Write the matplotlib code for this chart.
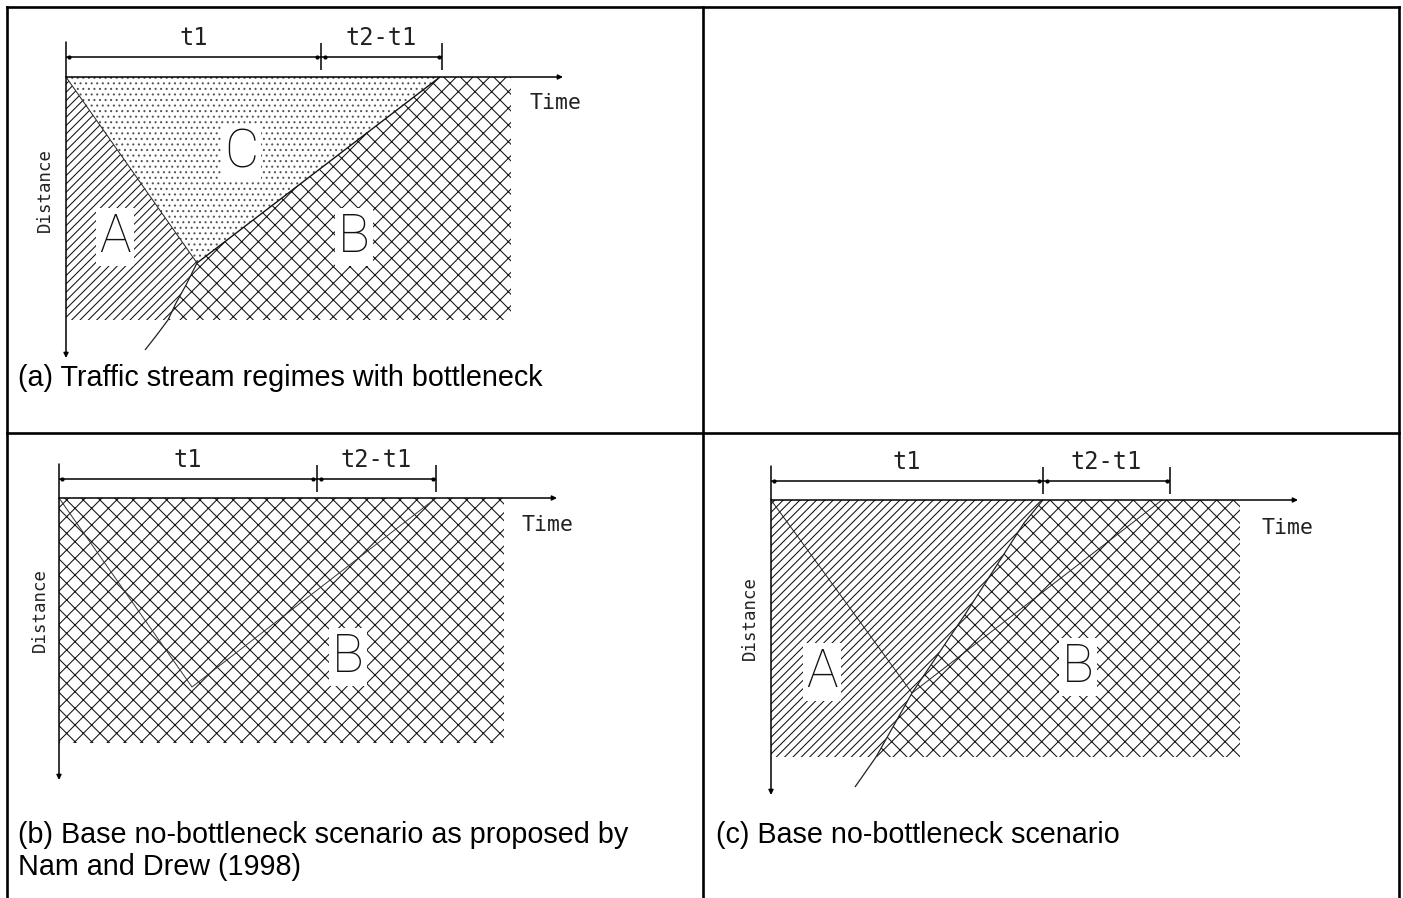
import matplotlib
matplotlib.use("Agg")
import matplotlib.pyplot as plt
from matplotlib.patches import Polygon
from matplotlib.font_manager import FontProperties

W, H, DPI = 1403, 898, 100

# ---- table frame (pixel coordinates, y grows downward)
frame_x = [7, 703, 1399]
frame_y = [7, 433]

captions = [
    ("(a) Traffic stream regimes with bottleneck", 18, 378),
    ("(b) Base no-bottleneck scenario as proposed by", 18, 835),
    ("Nam and Drew (1998)", 18, 867),
    ("(c) Base no-bottleneck scenario", 716, 835),
]

# ---- panel (a): bottleneck regimes A, B, C
a_origin = (66, 77)
a_t1, a_t2 = 321, 442
a_dim_y = 57
a_right, a_bottom = 511, 320
a_axis_end = (563, 358)
a_apex = (197, 263)
a_c_top = 440
a_shock = [(197, 263), (186, 285), (176, 303), (168, 320), (156, 336), (145, 350)]
a_labels = [("C", 241, 153), ("A", 115, 237), ("B", 354, 237)]
a_time = (530, 103)
a_dist = (45, 190)

# ---- panel (b): no-bottleneck, Nam and Drew
b_origin = (59, 498)
b_t1, b_t2 = 317, 436
b_dim_y = 479
b_right, b_bottom = 504, 743
b_axis_end = (557, 780)
b_apex = (192, 687)
b_labels = [("B", 348, 657)]
b_time = (522, 525)
b_dist = (40, 610)

# ---- panel (c): base no-bottleneck
c_origin = (771, 500)
c_t1, c_t2 = 1043, 1170
c_dim_y = 481
c_right, c_bottom = 1240, 757
c_axis_end = (1298, 795)
c_apex = (912, 693)
c_b_top = 1162
c_shock = [(1043, 500), (1024, 523), (995, 568), (966, 613), (912, 693),
           (880, 750), (876, 757), (855, 787)]
c_labels = [("A", 822, 672), ("B", 1078, 667)]
c_time = (1261, 528)
c_dist = (750, 618)

plt.rcParams["hatch.linewidth"] = 0.75

fig = plt.figure(figsize=(W / DPI, H / DPI), dpi=DPI)
ax = fig.add_axes([0, 0, 1, 1])
ax.set_xlim(0, W)
ax.set_ylim(H, 0)
ax.axis("off")

INK = "#111111"
label_font = "DejaVu Sans Mono"
big_font = FontProperties(family="Roboto", weight=100, size=38)


def region(pts, hatch, color=INK):
    ax.add_patch(Polygon(pts, closed=True, facecolor="white", edgecolor=color,
                         lw=0, hatch=hatch, zorder=1))


def line(pts, lw=0.8, color="#222222", z=3):
    xs = [p[0] for p in pts]
    ys = [p[1] for p in pts]
    ax.plot(xs, ys, color=color, lw=lw, zorder=z, solid_capstyle="butt")


def arrow(start, end):
    ax.annotate("", xy=end, xytext=start, zorder=5,
                arrowprops=dict(arrowstyle="-|>", lw=1.1, color="black",
                                mutation_scale=7, shrinkA=0, shrinkB=0))


def axes_and_dims(origin, t1, t2, dim_y, axis_end, time_pos, dist_pos):
    ox, oy = origin
    arrow((ox, dim_y - 15), (ox, axis_end[1]))
    arrow((ox, oy), (axis_end[0], oy))
    line([(ox, dim_y), (t2, dim_y)], lw=1.1, color="black", z=5)
    for x in (t1, t2):
        line([(x, dim_y - 14), (x, dim_y + 13)], lw=1.1, color="black", z=5)
    ax.plot([ox + 3, t1 - 4, t1 + 4, t2 - 3], [dim_y] * 4, "o", ms=2,
            color="black", zorder=6)
    ax.text((ox + t1) / 2, dim_y - 19, "t1", ha="center", va="center",
            family=label_font, fontsize=17, color="#222222", zorder=6)
    ax.text((t1 + t2) / 2, dim_y - 19, "t2-t1", ha="center", va="center",
            family=label_font, fontsize=17, color="#222222", zorder=6)
    ax.text(time_pos[0], time_pos[1], "Time", ha="left", va="center",
            family=label_font, fontsize=15.5, color="#222222", zorder=6)
    ax.text(dist_pos[0], dist_pos[1], "Distance", ha="center", va="center",
            rotation=90, family=label_font, fontsize=12.5, color="#222222",
            zorder=6)


def big_labels(labels):
    for s, x, y in labels:
        ax.text(x, y, s, ha="center", va="center", fontproperties=big_font,
                color="#111111", zorder=7,
                bbox=dict(boxstyle="square,pad=0.06", fc="white", ec="none"))


# ---------------- panel (a)
ox, oy = a_origin
shock_in = [p for p in a_shock if p[1] <= a_bottom]
region([(ox, oy), *shock_in, (ox, a_bottom)], "////")
region([(ox, oy), (a_c_top, oy), a_apex], "...", color="#555555")
region([(a_c_top, oy), (a_right, oy), (a_right, a_bottom), *shock_in[::-1]], "xx")
line([(ox, oy), a_apex], lw=0.7)
line([(a_c_top, oy), a_apex], lw=1.0, color="#111111")
line(a_shock, lw=0.9)
axes_and_dims(a_origin, a_t1, a_t2, a_dim_y, a_axis_end, a_time, a_dist)
big_labels(a_labels)

# ---------------- panel (b)
ox, oy = b_origin
region([(ox, oy), (b_right, oy), (b_right, b_bottom), (ox, b_bottom)], "xx")
line([(ox, oy), b_apex, (b_t2, oy)], lw=0.7, color="#333333")
axes_and_dims(b_origin, b_t1, b_t2, b_dim_y, b_axis_end, b_time, b_dist)
big_labels(b_labels)

# ---------------- panel (c)
ox, oy = c_origin
shock_in = [p for p in c_shock if p[1] <= c_bottom]
region([(ox, oy), *shock_in, (ox, c_bottom)], "////")
region([(c_t1, oy), (c_right, oy), (c_right, c_bottom), *shock_in[::-1]], "xx")
line([(ox, oy), c_apex], lw=0.7)
line([(c_b_top, oy), c_apex], lw=0.7)
line(c_shock, lw=0.9)
axes_and_dims(c_origin, c_t1, c_t2, c_dim_y, c_axis_end, c_time, c_dist)
big_labels(c_labels)

# ---------------- table frame and captions
for x in frame_x:
    ax.plot([x, x], [frame_y[0], H + 5], color="black", lw=1.9, zorder=10,
            solid_capstyle="projecting")
for y in frame_y:
    ax.plot([frame_x[0], frame_x[-1]], [y, y], color="black", lw=1.9,
            zorder=10, solid_capstyle="projecting")

for s, x, y in captions:
    ax.text(x, y, s, ha="left", va="center", family="Liberation Sans",
            fontsize=20.7, color="black", zorder=10)

fig.savefig("out.png", dpi=DPI, facecolor="white")
